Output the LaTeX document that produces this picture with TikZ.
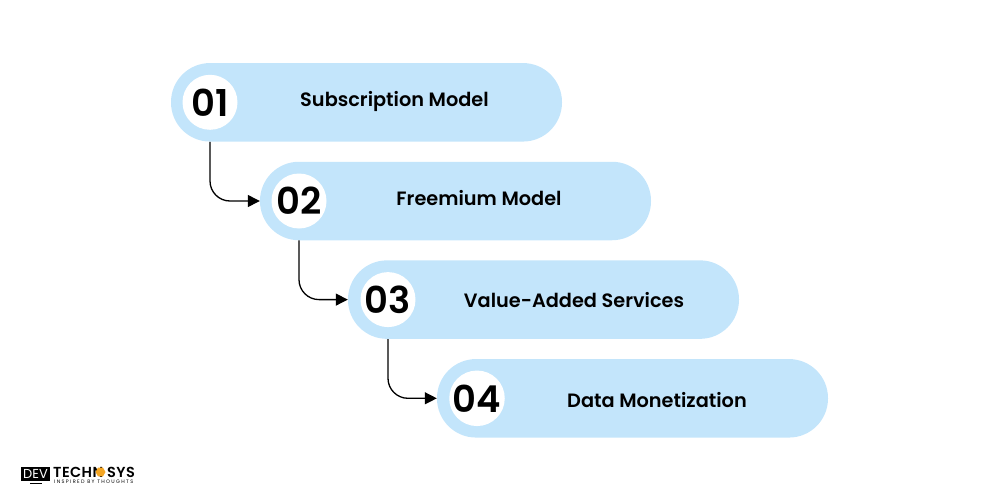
\documentclass[tikz,border=0pt]{standalone}
\usepackage{fontspec}
\setmainfont{Poppins}[BoldFont={Poppins SemiBold}]
\usetikzlibrary{arrows.meta,positioning,shapes.geometric}
\definecolor{pillblue}{HTML}{C3E5FB}
\definecolor{logoorange}{HTML}{F5A623}
\tikzset{
	pill/.style={fill=pillblue, minimum width=391pt, minimum height=78.5pt, rounded corners=39pt, inner sep=0pt},
	numdot/.style={circle, fill=white, minimum size=55pt, inner sep=0pt, font=\fontsize{37}{37}\selectfont\bfseries},
	pilltext/.style={font=\fontsize{19.3}{24}\selectfont\bfseries, inner sep=0pt, anchor=base},
	link/.style={draw=black, line width=1.3pt, rounded corners=20pt, -{Triangle[length=12pt,width=12pt]}},
	logotext/.style={inner sep=0pt, anchor=base west, font=\fontsize{14.5}{15}\selectfont\bfseries\addfontfeatures{LetterSpace=3}}
}
\begin{document}
\begin{tikzpicture}[x=1pt,y=-1pt]
	\useasboundingbox (0,0) rectangle (1000,500);
	
	% Pills
	\node[pill] (pill1) at (366.5,102.3) {};
	\node[pill] (pill2) at (455.5,201) {};
	\node[pill] (pill3) at (543.5,299.6) {};
	\node[pill] (pill4) at (632.5,398.3) {};
	
	% Numbers
	\node[numdot] (num1) at (210,102.3) {01};
	\node[numdot] (num2) at (299,201) {02};
	\node[numdot] (num3) at (388,299.6) {03};
	\node[numdot] (num4) at (477,398.3) {04};
	
	% Labels
	\node[pilltext] (label1) at (394.5,106.7) {Subscription Model};
	\node[pilltext] (label2) at (479,205.5) {Freemium Model};
	\node[pilltext] (label3) at (574,307.5) {Value-Added Services};
	\node[pilltext] (label4) at (657,407.5) {Data Monetization};
	
	% Connectors
	\draw[link] (num1 |- pill1.south) |- (pill2.west);
	\draw[link] (num2 |- pill2.south) |- (pill3.west);
	\draw[link] (num3 |- pill3.south) |- (pill4.west);
	
	% Logo
	\node[fill=black, minimum width=29pt, minimum height=14pt, inner sep=0pt] (logobox) at (35.5,474) {};
	\node[text=white, font=\fontsize{13}{13}\selectfont, inner sep=0pt] (logodev) at (logobox) {DEV};
	\node[fill=black, minimum width=12pt, minimum height=1.5pt, inner sep=0pt, below=1.5pt of logobox] (logostand) {};
	\node[logotext] (logotech) at (53,477) {TECHN};
	\node[regular polygon, regular polygon sides=6, fill=logoorange, minimum size=10pt, inner sep=0pt] (logohex) at (100.5,472) {};
	\node[logotext] (logosys) at (107,477) {SYS};
	\node[inner sep=0pt, anchor=base west, font=\fontsize{5}{5}\selectfont\addfontfeatures{LetterSpace=27}] (logotag) at (54,483.5) {INSPIRED BY THOUGHTS};
\end{tikzpicture}
\end{document}
